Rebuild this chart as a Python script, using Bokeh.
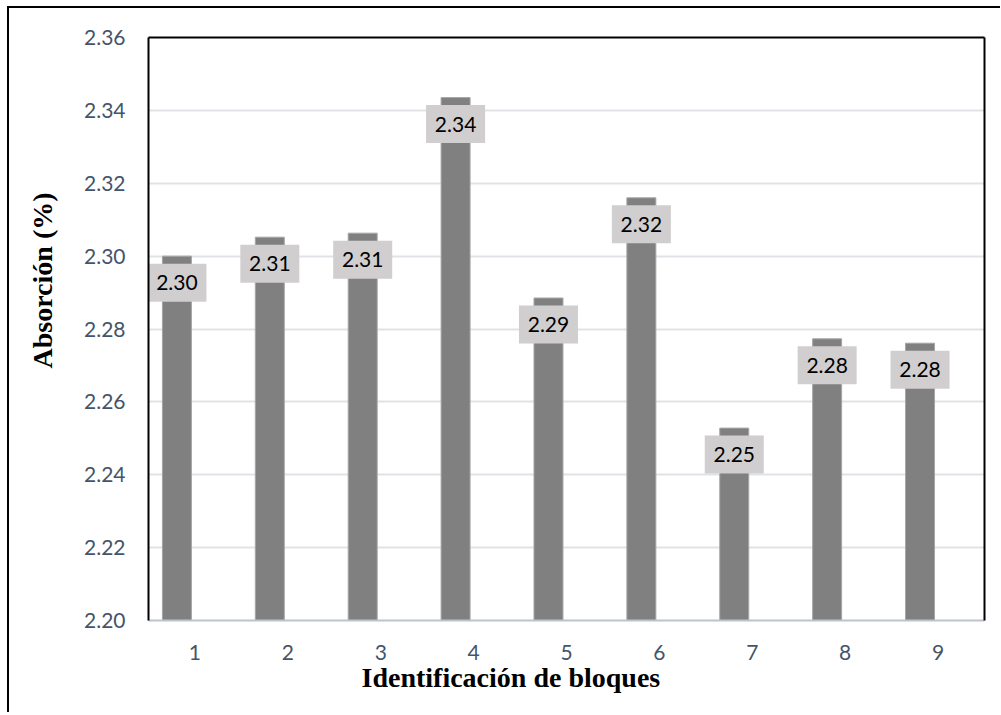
from bokeh.core.properties import value
from bokeh.embed import file_html
from bokeh.models import ColumnDataSource, FixedTicker, LinearAxis, NumeralTickFormatter, Title
from bokeh.plotting import figure
from bokeh.resources import INLINE

# Absorción por bloque
bloques = [1, 2, 3, 4, 5, 6, 7, 8, 9]
absorcion = [2.300, 2.3052, 2.3063, 2.3435, 2.2885, 2.316, 2.2528, 2.2773, 2.2761]
y_ticks = [2.20, 2.22, 2.24, 2.26, 2.28, 2.30, 2.32, 2.34, 2.36]

Y_MIN, Y_MAX = 2.20, 2.36
FRAME_W, FRAME_H = 836, 583
BAR_SHIFT = -0.194          # bars sit a little left of the category centre
BAR_WIDTH = 0.312
BOX_DROP_PX = 26.5          # data-label box centre below the bar top
px_to_y = (Y_MAX - Y_MIN) / FRAME_H

TICK_COLOR = "#44546a"
TICK_FONT = "Lato"
TITLE_FONT = "Liberation Serif"

src = ColumnDataSource(dict(
    x=[b + BAR_SHIFT for b in bloques],
    top=absorcion,
    box_y=[v - BOX_DROP_PX * px_to_y for v in absorcion],
    lbl=[f"{v:.2f}" for v in absorcion],
))

# thin black page border on the left and top, painted behind a transparent canvas border
page_edge = {
    "background-image": "linear-gradient(#000, #000), linear-gradient(#000, #000)",
    "background-size": "2px 100%, 100% 2px",
    "background-position": "7px 6px, 7px 6px",
    "background-repeat": "no-repeat",
    "background-color": "white",
}

p = figure(
    frame_width=FRAME_W, frame_height=FRAME_H,
    x_range=(0.5, 9.5), y_range=(Y_MIN, Y_MAX),
    output_backend="svg", toolbar_location=None,
    min_border_left=147, min_border_right=16,
    min_border_top=37, min_border_bottom=92,
    styles=page_edge,
    background_fill_color="white", border_fill_color=None,
    outline_line_color=None,
)

# grid
p.xgrid.visible = False
p.ygrid.ticker = FixedTicker(ticks=y_ticks)
p.ygrid.grid_line_color = "#dfe3e8"
p.ygrid.grid_line_width = 2

# bars
p.vbar(x="x", top="top", bottom=Y_MIN, width=BAR_WIDTH, source=src,
       fill_color="#808080", line_color="#a5a5a5", line_width=1)

# value labels
p.rect(x="x", y="box_y", width=59, height=38, width_units="screen",
       height_units="screen", source=src, fill_color="#d0cece", line_color=None)
p.text(x="x", y="top", text="lbl", source=src, y_offset=BOX_DROP_PX,
       text_font=value(TICK_FONT), text_font_size="21px", text_color="black",
       text_align="center", text_baseline="middle")

# axes
p.yaxis.ticker = FixedTicker(ticks=y_ticks)
p.yaxis.formatter = NumeralTickFormatter(format="0.00")
p.xaxis.ticker = FixedTicker(ticks=bloques)
for ax in (p.xaxis[0], p.yaxis[0]):
    ax.major_tick_line_color = None
    ax.minor_tick_line_color = None
    ax.major_tick_out = 0
    ax.major_tick_in = 0
    ax.major_label_text_font = TICK_FONT
    ax.major_label_text_font_size = "21px"
    ax.major_label_text_color = TICK_COLOR
p.yaxis.axis_line_color = "black"
p.yaxis.axis_line_width = 2
p.yaxis.major_label_standoff = 23
p.xaxis.axis_line_color = "#bcc3cc"
p.xaxis.axis_line_width = 2
p.xaxis.major_label_standoff = 24

# top and right frame edges as bare axes
for side in ("above", "right"):
    p.add_layout(LinearAxis(ticker=FixedTicker(ticks=[]), axis_line_color="black",
                            axis_line_width=2, major_tick_line_color=None,
                            minor_tick_line_color=None, major_label_text_font_size="0px",
                            major_tick_out=0, major_tick_in=0, major_label_standoff=0),
                 side)

# axis titles
p.add_layout(Title(text="Absorción (%)", align="left", offset=252,
                   vertical_align="bottom", standoff=48,
                   text_font=TITLE_FONT, text_font_style="bold",
                   text_font_size="28px", text_color="black"), "left")
p.add_layout(Title(text="Identificación de bloques", align="left", offset=213,
                   vertical_align="top", standoff=-2,
                   text_font=TITLE_FONT, text_font_style="bold",
                   text_font_size="28px", text_color="black"), "below")

open("out.html", "w").write(file_html(p, INLINE))
